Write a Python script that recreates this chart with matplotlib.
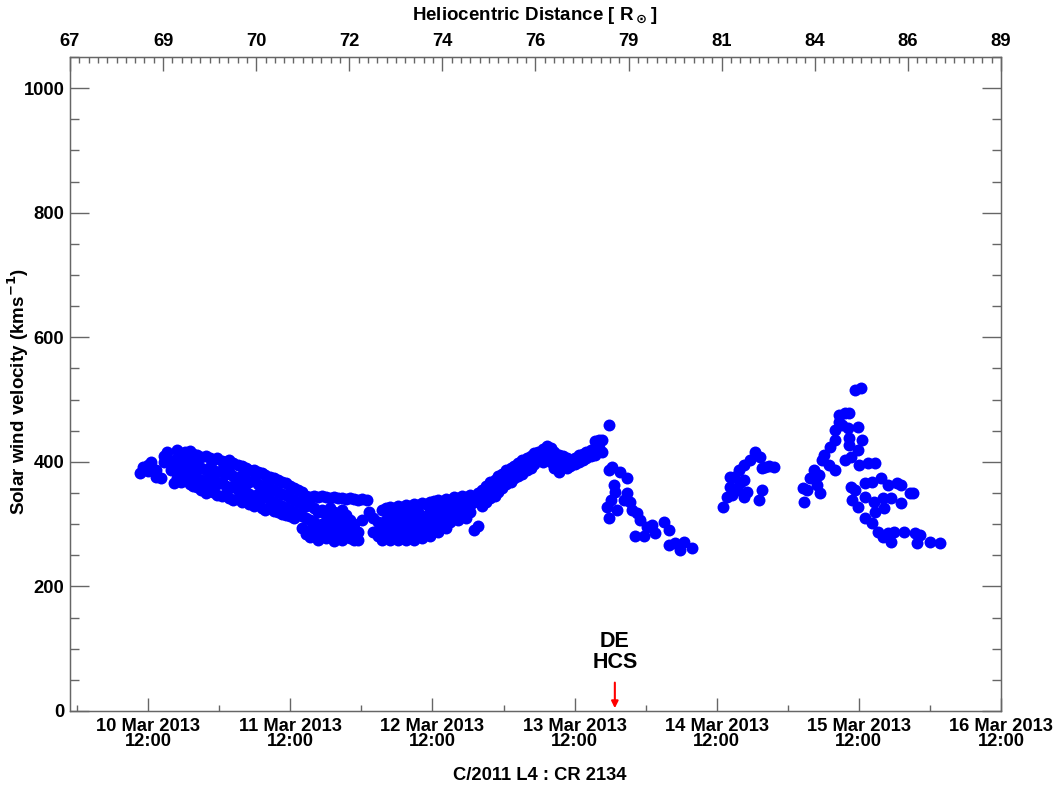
import datetime
import matplotlib
matplotlib.use('Agg')
import matplotlib.pyplot as plt
import matplotlib.dates as mdates
from matplotlib.ticker import MultipleLocator, FixedLocator

plt.rcParams['font.family'] = ['Liberation Sans', 'DejaVu Sans']
plt.rcParams['font.weight'] = 'bold'

# hours after 10 Mar 2013 00:00, with the speeds (km/s) seen at that time
band_hours = [10.7, 11.2, 11.9, 12.5, 13.4, 14.1, 14.6, 15.2, 15.8, 16.3, 16.9, 17.6, 18.3,
              19.0, 19.6, 20.3, 21.0, 21.7, 22.4, 23.0, 23.7, 24.4, 25.1, 25.7, 26.4, 27.1,
              27.8, 28.5, 29.1, 29.8, 30.5, 31.2, 31.8, 32.5, 33.2, 33.9, 34.6, 35.2, 35.9,
              36.6, 37.3, 37.9, 38.6, 39.3, 40.0, 40.6, 41.3, 42.0, 42.7, 43.4, 44.0, 44.7,
              45.4, 46.1, 46.7, 47.4, 48.1, 48.9, 49.3,
              50.0, 50.8, 51.5, 52.2, 52.8, 53.5, 54.2, 54.9, 55.6, 56.2, 56.9, 57.6, 58.3,
              58.9, 59.6, 60.3, 61.0, 61.7, 62.3, 63.0, 63.7, 64.4, 65.0, 65.7, 66.4, 67.1,
              67.7, 68.4, 69.1, 69.8, 70.5, 71.1, 71.8, 72.5, 73.2, 73.8, 74.5, 75.2, 75.9,
              76.6, 77.2, 77.9, 78.6, 79.3, 80.0, 80.6, 81.3, 82.0, 82.7, 83.3, 84.0, 84.7,
              85.4, 86.0, 86.7, 87.4, 88.1, 88.7, 89.8]
band_speeds = [[382], [392], [395, 385], [400], [376, 387], [374], [409, 400], [416, 406],
               [400, 387], [393, 366], [419, 406, 387, 374], [411, 395, 380, 368],
               [416, 403, 387, 371], [417, 400, 384, 364], [413, 398, 379, 361],
               [411, 393, 374, 360], [408, 390, 371, 355], [409, 387, 368, 350],
               [406, 392, 376, 358], [403, 387, 371, 352], [406, 384, 364, 347],
               [401, 387, 368, 345], [400, 380, 361, 348], [403, 384, 358, 342],
               [398, 377, 361, 339], [395, 374, 355, 340], [393, 379, 358, 335],
               [390, 371, 352, 339], [387, 368, 348, 332], [387, 371, 345, 329],
               [384, 364, 348, 334], [382, 361, 342, 326], [379, 363, 345, 323],
               [376, 358, 339, 326], [374, 355, 335, 321], [371, 352, 332, 319],
               [368, 348, 329, 316], [366, 347, 326, 315], [361, 342, 323, 313],
               [358, 339, 319, 310], [355, 335, 316], [352, 332, 313, 294],
               [345, 329, 310, 284], [343, 331, 307, 291, 279], [345, 326, 303, 284],
               [343, 319, 297, 274], [345, 323, 300, 287], [343, 315, 294, 278],
               [342, 326, 303, 283], [343, 319, 291, 273], [342, 310, 294, 281],
               [342, 323, 300, 274], [340, 315, 287], [342, 307, 294, 278], [340, 300, 274],
               [339, 287, 274], [340, 307], [339], [319],
               [310, 287], [303, 281], [323, 297, 274], [326, 307, 284], [327, 313, 291, 274],
               [326, 303, 281], [329, 310, 291, 274], [327, 315, 294, 278],
               [331, 307, 287, 274], [329, 316, 297, 278], [332, 310, 291, 274],
               [331, 319, 300, 281], [334, 313, 294, 278], [332, 307, 287],
               [335, 323, 300, 281], [337, 316, 297], [339, 326, 307, 287], [337, 319, 300],
               [340, 329, 310, 294], [339, 323, 303], [343, 329, 313], [342, 326, 307],
               [345, 332, 316], [343, 329, 310], [347, 331, 319], [291, 335],
               [350, 339, 297], [355, 342, 329], [361, 348, 335], [368, 355, 342],
               [371, 358, 345], [377, 364, 352], [380, 371, 358], [387, 374, 364],
               [390, 380, 368], [393, 384, 374], [398, 387, 377], [403, 393, 380],
               [406, 396, 387], [409, 400, 390], [414, 406, 396], [416, 406],
               [420, 411, 400], [425, 416, 406], [422, 409, 400], [416, 403, 390],
               [411, 396, 384], [409, 393], [406, 390], [403, 393], [406, 396], [411, 400],
               [412, 403], [416, 406], [419, 409], [433, 420, 411], [435, 422], [435, 416],
               [459]]

# after the HCS crossing
after_hours = [89.8, 90.3, 91.6, 92.8, 90.8, 89.4, 89.8, 91.1, 92.3, 93.3, 92.8, 94.5, 95.0,
               96.2, 94.2, 95.7, 97.6, 99.1, 99.9, 99.9, 100.9, 102.5, 101.8, 103.8, 90.1,
               90.6, 93.7, 97.0]
after_speeds = [387, 392, 384, 374, 352, 327, 310, 323, 339, 335, 350, 318, 307,
                295, 281, 281, 286, 303, 290, 266, 270, 271, 258, 262, 339,
                363, 323, 299]

# 14 Mar cluster
mid_hours = [109.1, 109.8, 110.3, 110.9, 111.8, 112.6, 113.6, 114.5, 115.3, 116.2, 117.7,
             115.7, 112.6, 113.1, 112.6, 115.7, 115.2, 111.4, 110.3, 110.6, 112.0, 116.9]
mid_speeds = [327, 343, 360, 376, 387, 395, 403, 416, 408, 392, 392,
              390, 371, 352, 343, 355, 339, 355, 376, 347, 366, 393]

# 15 Mar peak and decay
late_hours = [122.8, 122.5, 123.8, 125.3, 125.5, 125.8, 127.2, 127.0, 127.9, 127.9, 128.7,
              129.6, 130.4, 128.7, 130.1, 131.8, 130.4, 132.6, 131.8, 129.6, 130.6, 131.3,
              132.3, 132.1, 133.5, 134.8, 130.6, 131.4, 133.0, 134.3, 135.7, 136.9, 138.5,
              139.1, 130.9, 131.8, 133.1, 134.6, 136.0, 137.4, 139.1, 134.8, 136.3, 133.0,
              134.3, 135.2, 136.9, 138.0, 139.7, 141.4, 142.4, 141.9, 144.1, 145.7, 137.4,
              136.0, 140.6, 141.1, 124.5, 126.2, 125.0, 123.3, 128.0, 129.1, 130.4]
late_speeds = [336, 358, 374, 379, 350, 403, 424, 395, 387, 435, 475,
               478, 478, 464, 454, 456, 438, 435, 419, 403, 408, 515,
               518, 395, 398, 398, 360, 355, 366, 368, 374, 363, 366,
               363, 339, 327, 343, 336, 342, 342, 334, 319, 326, 310,
               302, 287, 286, 287, 287, 286, 283, 270, 271, 270, 271,
               279, 350, 350, 387, 411, 363, 355, 451, 459, 427]

distance_labels = ['67', '69', '70', '72', '74', '76', '79', '81', '84', '86', '89']
hcs_hour = 90.8

start = mdates.date2num(datetime.datetime(2013, 3, 10))


def to_date(hours):
    return [start + h / 24.0 for h in hours]


times = []
speeds = []
for h, vs in zip(band_hours, band_speeds):
    for v in vs:
        times.append(h)
        speeds.append(v)
times += after_hours + mid_hours + late_hours
speeds += after_speeds + mid_speeds + late_speeds

fig = plt.figure(figsize=(10.59, 7.92), dpi=100)
ax = fig.add_axes([0.0661, 0.1023, 0.8791, 0.8258])

ax.plot(to_date(times), speeds, 'o', color='#0000ff', markersize=8.6,
        markeredgewidth=0, zorder=3)

ax.set_xlim(start - 1.2 / 24.0, start + 156 / 24.0)
ax.set_ylim(0, 1050)

axis_color = '#666666'
for side in ax.spines.values():
    side.set_color(axis_color)
    side.set_linewidth(1.0)

ax.xaxis.set_major_locator(mdates.HourLocator(byhour=[12]))
ax.xaxis.set_minor_locator(mdates.HourLocator(byhour=[0]))
ax.xaxis.set_major_formatter(mdates.DateFormatter('%d %b %Y\n%H:%M'))
ax.yaxis.set_major_locator(MultipleLocator(200))
ax.yaxis.set_minor_locator(MultipleLocator(50))

ax.tick_params(axis='x', which='major', direction='in', length=9.5, width=1,
               color=axis_color, labelsize=13.2, pad=5)
ax.tick_params(axis='x', which='minor', direction='in', length=4.5, width=1,
               color=axis_color)
ax.tick_params(axis='y', which='major', direction='in', length=13.5, width=1,
               color=axis_color, labelsize=13.2, pad=4, right=True)
ax.tick_params(axis='y', which='minor', direction='in', length=6.5, width=1,
               color=axis_color, right=True)
for lab in ax.get_xticklabels():
    lab.set_linespacing(0.85)

# top axis: heliocentric distance labels at even spacing
top = ax.twiny()
top.set_xlim(0, 10)
top.xaxis.set_major_locator(FixedLocator(range(11)))
top.xaxis.set_minor_locator(MultipleLocator(0.1))
top.set_xticklabels(distance_labels)
top.tick_params(axis='x', which='major', direction='in', length=10, width=1,
                color=axis_color, labelsize=13.2, pad=5)
top.tick_params(axis='x', which='minor', direction='in', length=4, width=1,
                color=axis_color)
for side in top.spines.values():
    side.set_color(axis_color)

fig.text(535 / 1059, 1 - 15 / 792, r'Heliocentric Distance [ R$_\odot$]',
         ha='center', va='center', fontsize=13.5, fontweight='bold')
fig.text(18 / 1059, 1 - 392 / 792, r'Solar wind velocity (kms$^{\mathbf{-1}}$)',
         ha='center', va='center', rotation=90, fontsize=13.5, fontweight='bold')
fig.text(540 / 1059, 1 - 775 / 792, 'C/2011 L4 : CR 2134',
         ha='center', va='center', fontsize=13.2, fontweight='bold')

hcs = start + hcs_hour / 24.0
ax.annotate('', xy=(hcs, 0), xytext=(hcs, 50),
            arrowprops=dict(arrowstyle='-|>', color='red', lw=1.5, mutation_scale=10))
ax.text(hcs, 94, 'DE\nHCS', ha='center', va='center', fontsize=15.5,
        fontweight='bold', linespacing=1.0)

fig.savefig('out.png', dpi=100)
